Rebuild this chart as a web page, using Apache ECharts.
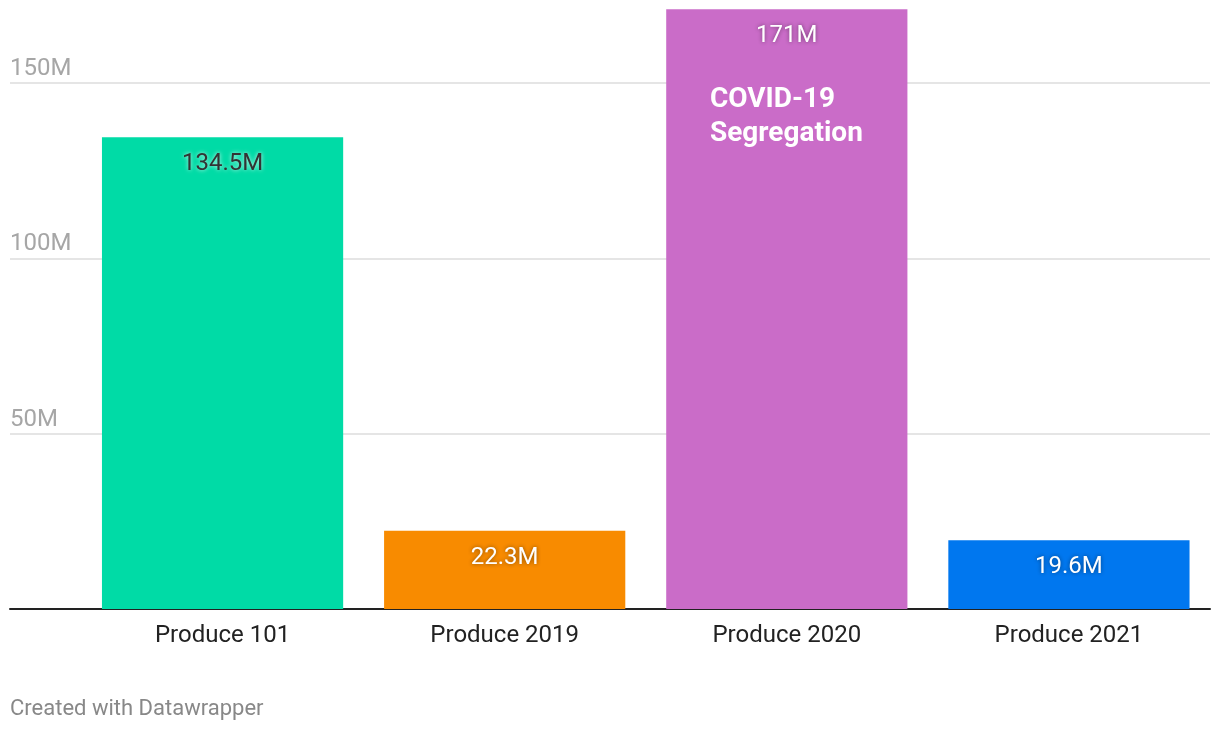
<!DOCTYPE html>
<html>
<head>
<meta charset="utf-8">
<style>
html,body{margin:0;padding:0;background:#fff;}
#chart{width:1220px;height:730px;}
</style>
<script src="https://cdn.jsdelivr.net/npm/echarts@6/dist/echarts.min.js"></script>
</head>
<body>
<div id="chart"></div>
<script>
const categories = ['Produce 101', 'Produce 2019', 'Produce 2020', 'Produce 2021'];
const values = [134.5, 22.3, 171, 19.6];
const barColors = ['#00dba6', '#f88b00', '#ca6cc8', '#0077ef'];
const yTicks = [0, 50, 100, 150];
const annotationText = 'COVID-19\nSegregation';
const footerText = 'Created with Datawrapper';

const FONT = 'Roboto, "Noto Sans", sans-serif';
const baseY = 609;            // pixel of the baseline
const topTickY = 83;          // pixel of top gridline
const pxPerUnit = (baseY - topTickY) / yTicks[yTicks.length - 1];
const dataMax = Math.max(...values);
const barGridTop = baseY - dataMax * pxPerUnit;
const bottom = 730 - baseY;

const chart = echarts.init(document.getElementById('chart'));

const barData = values.map((v, i) => ({
  value: v,
  itemStyle: { color: barColors[i] },
  label: i === 0 ? {
    color: '#333', textShadowColor: 'rgba(255,255,255,0.8)', textShadowBlur: 4
  } : {
    color: '#fff', textShadowColor: 'rgba(0,0,0,0.45)', textShadowBlur: 4
  }
}));

chart.setOption({
  animation: false,
  backgroundColor: '#fff',
  grid: [
    { left: 10, right: 10, top: topTickY, bottom: bottom, containLabel: false },
    { left: 81.5, right: 10, top: barGridTop, bottom: bottom, containLabel: false }
  ],
  xAxis: [
    {
      gridIndex: 0, type: 'value', min: 0, max: 1,
      axisLine: { show: true, onZero: false, lineStyle: { color: '#222', width: 2 } },
      axisTick: { show: false }, axisLabel: { show: false }, splitLine: { show: false }
    },
    {
      gridIndex: 1, type: 'category', data: categories,
      axisLine: { show: false }, axisTick: { show: false },
      axisLabel: { color: '#222', fontSize: 24, fontFamily: FONT, margin: 15 }
    }
  ],
  yAxis: [
    {
      gridIndex: 0, type: 'value', min: yTicks[0], max: yTicks[yTicks.length - 1], interval: 50,
      axisLine: { show: false }, axisTick: { show: false },
      splitLine: { show: true, lineStyle: { color: '#e5e5e5', width: 2 } },
      axisLabel: {
        inside: true, margin: 0, align: 'left', verticalAlign: 'bottom',
        color: '#a6a6a6', fontSize: 24, fontFamily: FONT, padding: [0, 0, 2, 0],
        showMinLabel: false,
        formatter: v => v === 0 ? '' : v + 'M'
      }
    },
    {
      gridIndex: 1, type: 'value', min: 0, max: dataMax, show: false,
      splitLine: { show: false }
    }
  ],
  series: [{
    type: 'bar',
    xAxisIndex: 1, yAxisIndex: 1,
    data: barData,
    barCategoryGap: '14.5%',
    label: {
      show: true, position: 'insideTop', distance: 15,
      fontSize: 24, fontFamily: FONT,
      formatter: p => p.value + 'M'
    }
  }],
  graphic: [
    {
      type: 'text', left: 710, top: 83, z: 100,
      style: {
        text: annotationText, fill: '#fff', font: 'bold 28px ' + FONT, lineHeight: 34
      }
    },
    {
      type: 'text', left: 10, top: 698, z: 100,
      style: { text: footerText, fill: '#888', font: '22px ' + FONT }
    }
  ]
});
</script>
</body>
</html>
